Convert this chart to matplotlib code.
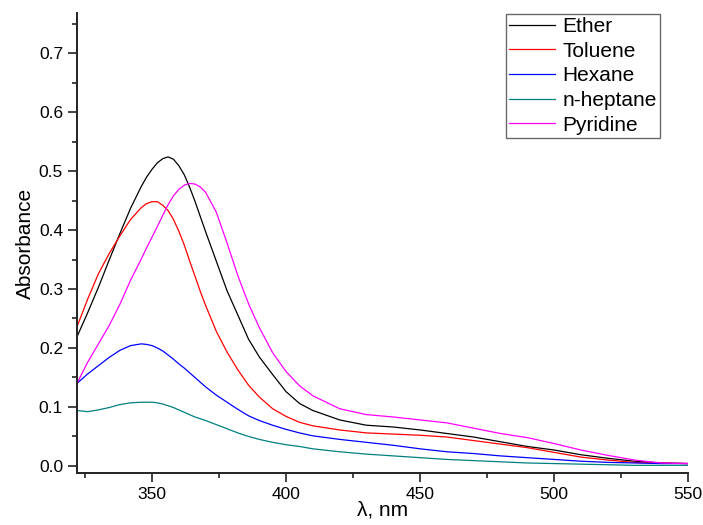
import numpy as np
import matplotlib
matplotlib.use('Agg')
import matplotlib.pyplot as plt
from matplotlib.ticker import MultipleLocator, FormatStrFormatter

plt.rcParams['font.family'] = ['Liberation Sans', 'DejaVu Sans']

# wavelength grid (nm) and absorbance
wl = [322, 326, 330, 334, 338, 342, 346, 348, 350, 352, 354, 356, 358, 360, 362,
      364, 366, 368, 370, 374, 378, 382, 386, 390, 395, 400, 405, 410, 420, 430,
      440, 450, 460, 470, 480, 490, 500, 510, 520, 530, 540, 550]

ether = [0.219, 0.260, 0.303, 0.349, 0.394, 0.437, 0.474, 0.490, 0.503, 0.514, 0.521,
         0.524, 0.520, 0.509, 0.494, 0.473, 0.449, 0.423, 0.397, 0.347, 0.297, 0.256,
         0.215, 0.185, 0.155, 0.126, 0.106, 0.094, 0.078, 0.069, 0.066, 0.061, 0.055,
         0.049, 0.041, 0.033, 0.027, 0.019, 0.013, 0.008, 0.005, 0.004]
toluene = [0.236, 0.283, 0.326, 0.360, 0.390, 0.418, 0.438, 0.445, 0.448, 0.448, 0.442,
           0.433, 0.418, 0.398, 0.375, 0.348, 0.322, 0.296, 0.272, 0.228, 0.193, 0.163,
           0.137, 0.117, 0.097, 0.084, 0.074, 0.068, 0.061, 0.056, 0.054, 0.052, 0.049,
           0.043, 0.037, 0.031, 0.023, 0.015, 0.010, 0.006, 0.005, 0.004]
hexane = [0.140, 0.156, 0.170, 0.184, 0.196, 0.204, 0.207, 0.206, 0.204, 0.200, 0.195,
          0.188, 0.181, 0.173, 0.166, 0.158, 0.150, 0.142, 0.134, 0.120, 0.108, 0.096,
          0.085, 0.077, 0.069, 0.062, 0.056, 0.051, 0.045, 0.040, 0.035, 0.029, 0.024,
          0.021, 0.017, 0.014, 0.011, 0.008, 0.006, 0.005, 0.004, 0.004]
heptane = [0.094, 0.092, 0.095, 0.099, 0.104, 0.107, 0.108, 0.108, 0.108, 0.107, 0.105,
           0.102, 0.099, 0.095, 0.091, 0.087, 0.083, 0.080, 0.077, 0.070, 0.063, 0.056,
           0.050, 0.045, 0.040, 0.036, 0.033, 0.029, 0.024, 0.020, 0.017, 0.014, 0.011,
           0.009, 0.007, 0.005, 0.004, 0.003, 0.002, 0.001, 0.001, 0.001]
pyridine = [0.140, 0.176, 0.207, 0.238, 0.274, 0.315, 0.351, 0.370, 0.388, 0.406, 0.425,
            0.443, 0.458, 0.469, 0.476, 0.479, 0.478, 0.473, 0.464, 0.430, 0.378, 0.323,
            0.275, 0.235, 0.192, 0.160, 0.136, 0.119, 0.097, 0.087, 0.083, 0.078, 0.073,
            0.064, 0.055, 0.048, 0.038, 0.027, 0.018, 0.010, 0.005, 0.004]

names = ['Ether', 'Toluene', 'Hexane', 'n-heptane', 'Pyridine']
colors = ['black', 'red', 'blue', '#008080', 'magenta']
series = [ether, toluene, hexane, heptane, pyridine]

fig = plt.figure(figsize=(7.03, 5.25), dpi=100)
ax = fig.add_axes([77/703, 1-473/525, (688-77)/703, (473-13)/525])

for name, c, y in zip(names, colors, series):
    ax.plot(wl, y, color=c, lw=0.9, label=name)

ax.set_xlim(322, 550)
ax.set_ylim(-0.012, 0.768)
ax.xaxis.set_major_locator(MultipleLocator(50))
ax.xaxis.set_minor_locator(MultipleLocator(25))
ax.yaxis.set_major_locator(MultipleLocator(0.1))
ax.yaxis.set_minor_locator(MultipleLocator(0.05))
ax.yaxis.set_major_formatter(FormatStrFormatter('%.1f'))

for s in ['top', 'right']:
    ax.spines[s].set_visible(False)
for s in ['left', 'bottom']:
    ax.spines[s].set_linewidth(1.4)
    ax.spines[s].set_color('#222222')
ax.tick_params(which='both', direction='out', width=1.2, color='#222222',
               labelsize=12.5, pad=3.5)
ax.tick_params(which='major', length=6.5)
ax.tick_params(which='minor', length=3.5)

ax.set_xlabel('λ, nm', fontsize=15, labelpad=-1)
ax.set_ylabel('Absorbance', fontsize=15, labelpad=3)

leg = ax.legend(loc='upper right', bbox_to_anchor=(660/703, 1-14/525),
                bbox_transform=fig.transFigure, fontsize=15, frameon=True,
                fancybox=False, borderpad=0.15, labelspacing=0.27,
                handlelength=2.2, handletextpad=0.35, borderaxespad=0)
leg.get_frame().set_edgecolor('#444444')
leg.get_frame().set_linewidth(1.0)

fig.savefig('out.png', dpi=100)
